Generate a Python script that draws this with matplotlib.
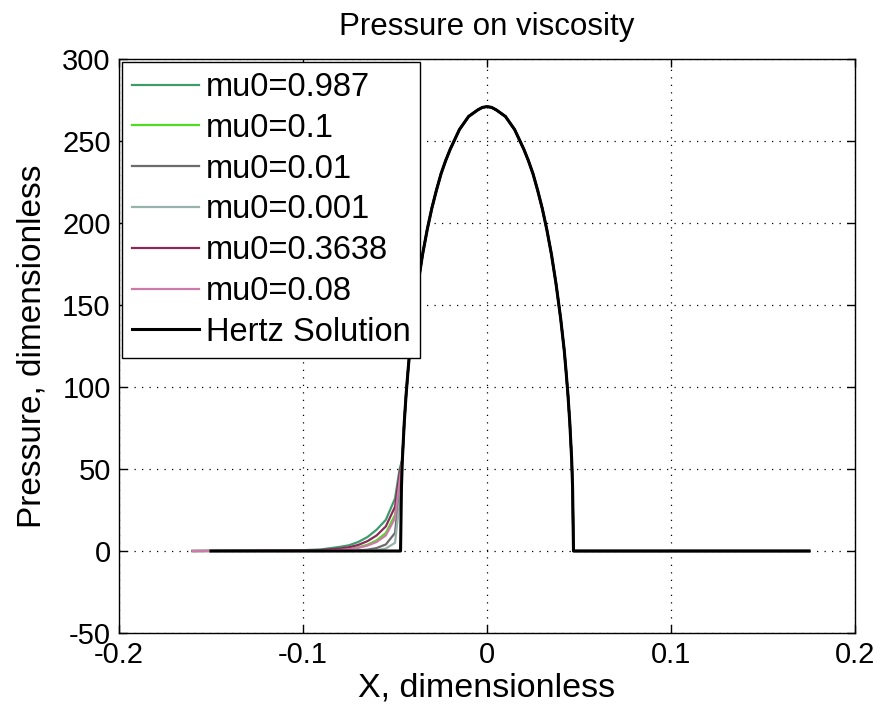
import matplotlib
matplotlib.use("Agg")
import matplotlib.pyplot as plt

plt.rcParams['font.family'] = ['Liberation Sans', 'DejaVu Sans']
plt.rcParams['axes.unicode_minus'] = False

# Contact zone (all curves overlap here)
contact_x = [-0.047, -0.0465, -0.046, -0.045, -0.044, -0.043, -0.042, -0.04, -0.0375, -0.035,
             -0.0325, -0.03, -0.0275, -0.025, -0.0225, -0.02, -0.0175, -0.015, -0.0125, -0.01,
             -0.0075, -0.005, -0.0025, 0.0, 0.0025, 0.005, 0.0075, 0.01, 0.0125, 0.015,
             0.0175, 0.02, 0.0225, 0.025, 0.0275, 0.03, 0.0325, 0.035, 0.0375, 0.04,
             0.042, 0.043, 0.044, 0.045, 0.046, 0.0465, 0.047]
contact_p = [0, 39, 56, 78, 95, 109, 122, 142, 163, 181,
             196, 209, 220, 230, 238, 245, 251, 257, 261, 265,
             267, 269, 270.5, 271, 270.5, 269, 267, 265, 261, 257,
             251, 245, 238, 230, 220, 209, 196, 181, 163, 142,
             122, 109, 95, 78, 56, 39, 0]

# Inlet zone, where the viscous solutions depart from Hertz
inlet_x = [-0.16, -0.1, -0.09, -0.08, -0.075, -0.07, -0.065, -0.06, -0.055, -0.05, -0.0475]
p_0987 = [0, 0.5, 1.0, 2.5, 3.5, 5.5, 8.5, 13, 19, 32, 50]
p_01 = [0, 0.1, 0.3, 0.8, 1.3, 2.2, 3.8, 6.5, 11, 22, 44]
p_001 = [0, 0, 0, 0.1, 0.2, 0.4, 0.8, 1.8, 4, 11, 38]
p_0001 = [0, 0, 0, 0, 0, 0.1, 0.2, 0.5, 1.5, 5, 30]
p_03638 = [0, 0.3, 0.6, 1.5, 2.3, 3.7, 6, 9.5, 15, 27, 47]
p_008 = [0, 0.1, 0.2, 0.6, 1.1, 1.9, 3.3, 5.5, 9.5, 20, 43]

x_start_hertz = -0.15
x_end = 0.175

labels = ["mu0=0.987", "mu0=0.1", "mu0=0.01", "mu0=0.001", "mu0=0.3638", "mu0=0.08"]
colors = ["#3e9c6c", "#4fdc22", "#6c6c6c", "#98b2ac", "#8a2a58", "#cc7aa8"]
inlets = [p_0987, p_01, p_001, p_0001, p_03638, p_008]

fig = plt.figure(figsize=(8.83, 7.13), dpi=100)
ax = fig.add_axes([0.1348, 0.1122, 0.8335, 0.805])

ehl_x = inlet_x + contact_x[2:] + [x_end]
for lab, col, inl in zip(labels, colors, inlets):
    ax.plot(ehl_x, inl + contact_p[2:] + [0], color=col, lw=1.6, label=lab)

hertz_x = [x_start_hertz] + contact_x + [x_end]
hertz_p = [0] + contact_p + [0]
ax.plot(hertz_x, hertz_p, color="black", lw=2.2, label="Hertz Solution")

ax.set_xlim(-0.2, 0.2)
ax.set_ylim(-50, 300)
ax.set_xticks([-0.2, -0.1, 0, 0.1, 0.2])
ax.set_xticklabels(["-0.2", "-0.1", "0", "0.1", "0.2"])
ax.set_yticks([-50, 0, 50, 100, 150, 200, 250, 300])
ax.tick_params(direction="in", length=6, width=1, top=True, right=True, labelsize=21, pad=6)
ax.grid(True, color="black", linestyle=(0, (1, 5)), lw=0.9)
for s in ax.spines.values():
    s.set_linewidth(1.0)

ax.set_title("Pressure on viscosity", fontsize=22.5, pad=17)
ax.set_xlabel("X, dimensionless", fontsize=24.5, labelpad=2)
ax.set_ylabel("Pressure, dimensionless", fontsize=24)
ax.yaxis.set_label_coords(-0.097, 0.5)

leg = ax.legend(loc="upper left", fontsize=23.5, frameon=True, fancybox=False,
                edgecolor="black", framealpha=1, borderaxespad=0.1,
                handlelength=2.05, handletextpad=0.2, labelspacing=0.3,
                borderpad=0.3)
leg.get_frame().set_linewidth(1.0)

fig.savefig("out.png", dpi=100)
